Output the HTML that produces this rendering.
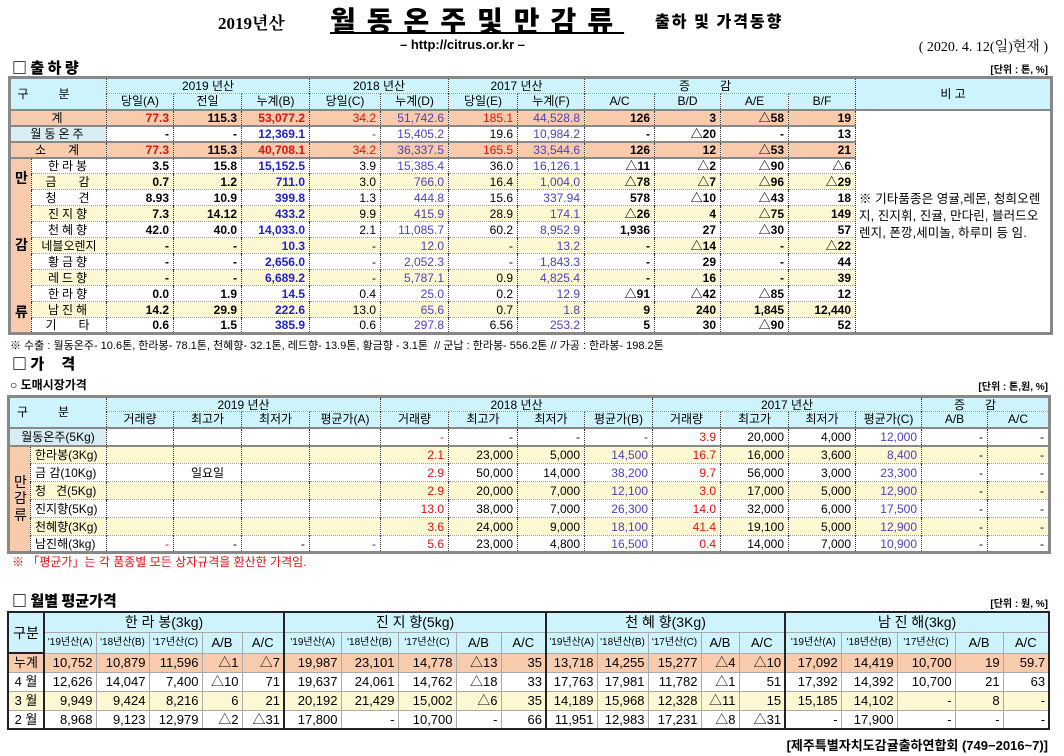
<!DOCTYPE html>
<html><head><meta charset="utf-8">
<style>
*{margin:0;padding:0;box-sizing:border-box}
body{width:1064px;height:756px;background:#fff;position:relative;overflow:hidden;font-family:"Liberation Sans","Noto Sans CJK KR",sans-serif;color:#000}
.a{position:absolute;white-space:nowrap}
table{position:absolute;border-collapse:collapse;table-layout:fixed;font-size:12px}
td{border-left:1px dotted #333;border-top:1px dotted #999;padding:0 4px;text-align:right;overflow:hidden;white-space:nowrap;line-height:1}
.h td{background:#cdf4fc;text-align:center;font-weight:normal}
.c{text-align:center!important}
.o td{background:#f8cbad}
.y td{background:#fdf8d2}
.w td{background:#fff}
.lab{text-align:center;background:#f8cbad!important;font-weight:bold;font-size:14px;white-space:normal;line-height:1.6;border-top:1px solid #666}
.b{font-weight:bold}
.r{color:#e01010}
.u{color:#2020d0}
.p{color:#4b3fc0}
.t1{border:3px solid #888}
.t1 td.lb{text-align:center;letter-spacing:3px}
.tr1 td{border-top:2px solid #888}
.t3 td{border-left:1px solid #aaa;border-top:1px solid #aaa;font-size:13px;padding:0 3px}
.t3 .g{border-left:2px solid #222}
.hd{font-family:"Noto Sans CJK KR",sans-serif;font-weight:900}
</style></head><body>

<div class="a" style="left:218px;top:9px;font:bold 17px 'Liberation Serif','Noto Serif CJK SC',serif">2019년산</div>
<div class="a hd" style="left:330px;top:0px;font-size:28px;letter-spacing:11px;text-decoration:underline;text-decoration-thickness:2px">월동온주및만감류</div>
<div class="a hd" style="left:655px;top:8px;font-size:16px;letter-spacing:2px">출하 및 가격동향</div>
<div class="a b" style="left:400px;top:37px;font-size:13px">– http://citrus.or.kr –</div>
<div class="a" style="right:16px;top:36px;font-size:14px;font-family:'Liberation Serif','Noto Serif CJK SC',serif">( 2020. 4. 12(일)현재 )</div>

<div class="a hd" style="left:12px;top:57px;font-size:15px">□ 출 하 량</div>
<div class="a b" style="right:16px;top:61px;font-size:10px">[단위 : 톤, %]</div>

<table class="t1" style="left:8px;top:76px;width:1042px">
<colgroup><col style="width:22px"><col style="width:75px"><col style="width:67px"><col style="width:68px"><col style="width:68px"><col style="width:71px"><col style="width:68px"><col style="width:69px"><col style="width:67px"><col style="width:70px"><col style="width:66px"><col style="width:68px"><col style="width:67px"><col style="width:196px"></colgroup>
<tr class="h" style="height:16px"><td colspan="2" rowspan="2" style="letter-spacing:30px">구분</td><td colspan="3">2019 년산</td><td colspan="2">2018 년산</td><td colspan="2">2017 년산</td><td colspan="4" style="letter-spacing:30px">증감</td><td rowspan="2">비 고</td></tr>
<tr class="h" style="height:16px"><td>당일(A)</td><td>전일</td><td>누계(B)</td><td>당일(C)</td><td>누계(D)</td><td>당일(E)</td><td>누계(F)</td><td>A/C</td><td>B/D</td><td>A/E</td><td>B/F</td></tr>
<tr class="o tr1" style="height:16px"><td colspan="2" class="lb">계</td><td class="b r">77.3</td><td class="b">115.3</td><td class="b r">53,077.2</td><td class="r">34.2</td><td class="p">51,742.6</td><td class="r">185.1</td><td class="p">44,528.8</td><td class="b">126</td><td class="b">3</td><td class="b">△58</td><td class="b">19</td><td rowspan="14" style="background:#fff;text-align:left;white-space:normal;font-size:12.5px;letter-spacing:0.1px;line-height:17px;padding:80px 2px 0 3px;vertical-align:top">※ 기타품종은 영귤,레몬, 청희오렌지, 진지휘, 진귤, 만다린, 블러드오렌지, 폰깡,세미놀, 하루미 등 임.</td></tr>
<tr class="w tr1" style="height:16px"><td colspan="2" class="lb" style="background:#d8ecf4">월동온주</td><td class="b">-</td><td class="b">-</td><td class="b u">12,369.1</td><td class="r">-</td><td class="p">15,405.2</td><td>19.6</td><td class="p">10,984.2</td><td class="b">-</td><td class="b">△20</td><td class="b">-</td><td class="b">13</td></tr>
<tr class="o tr1" style="height:16px"><td colspan="2" class="lb">소 &nbsp; 계</td><td class="b r">77.3</td><td class="b">115.3</td><td class="b r">40,708.1</td><td class="r">34.2</td><td class="p">36,337.5</td><td class="r">165.5</td><td class="p">33,544.6</td><td class="b">126</td><td class="b">12</td><td class="b">△53</td><td class="b">21</td></tr>
<tr class="w tr1" style="height:16px"><td rowspan="11" class="lab">만<br><br><br>감<br><br><br>류</td><td class="lb">한라봉</td><td class="b">3.5</td><td class="b">15.8</td><td class="b u">15,152.5</td><td>3.9</td><td class="p">15,385.4</td><td>36.0</td><td class="p">16,126.1</td><td class="b">△11</td><td class="b">△2</td><td class="b">△90</td><td class="b">△6</td></tr>
<tr class="y" style="height:16px"><td class="lb">금 &nbsp; 감</td><td class="b">0.7</td><td class="b">1.2</td><td class="b u">711.0</td><td>3.0</td><td class="p">766.0</td><td>16.4</td><td class="p">1,004.0</td><td class="b">△78</td><td class="b">△7</td><td class="b">△96</td><td class="b">△29</td></tr>
<tr class="w" style="height:16px"><td class="lb">청 &nbsp; 견</td><td class="b">8.93</td><td class="b">10.9</td><td class="b u">399.8</td><td>1.3</td><td class="p">444.8</td><td>15.6</td><td class="p">337.94</td><td class="b">578</td><td class="b">△10</td><td class="b">△43</td><td class="b">18</td></tr>
<tr class="y" style="height:16px"><td class="lb">진지향</td><td class="b">7.3</td><td class="b">14.12</td><td class="b u">433.2</td><td>9.9</td><td class="p">415.9</td><td>28.9</td><td class="p">174.1</td><td class="b">△26</td><td class="b">4</td><td class="b">△75</td><td class="b">149</td></tr>
<tr class="w" style="height:16px"><td class="lb">천혜향</td><td class="b">42.0</td><td class="b">40.0</td><td class="b u">14,033.0</td><td>2.1</td><td class="p">11,085.7</td><td>60.2</td><td class="p">8,952.9</td><td class="b">1,936</td><td class="b">27</td><td class="b">△30</td><td class="b">57</td></tr>
<tr class="y" style="height:16px"><td class="lb" style="letter-spacing:0">네블오렌지</td><td class="b">-</td><td class="b">-</td><td class="b u">10.3</td><td>-</td><td class="p">12.0</td><td>-</td><td class="p">13.2</td><td class="b">-</td><td class="b">△14</td><td class="b">-</td><td class="b">△22</td></tr>
<tr class="w" style="height:16px"><td class="lb">황금향</td><td class="b">-</td><td class="b">-</td><td class="b u">2,656.0</td><td>-</td><td class="p">2,052.3</td><td>-</td><td class="p">1,843.3</td><td class="b">-</td><td class="b">29</td><td class="b">-</td><td class="b">44</td></tr>
<tr class="y" style="height:16px"><td class="lb">레드향</td><td class="b">-</td><td class="b">-</td><td class="b u">6,689.2</td><td>-</td><td class="p">5,787.1</td><td>0.9</td><td class="p">4,825.4</td><td class="b">-</td><td class="b">16</td><td class="b">-</td><td class="b">39</td></tr>
<tr class="w" style="height:16px"><td class="lb">한라향</td><td class="b">0.0</td><td class="b">1.9</td><td class="b u">14.5</td><td>0.4</td><td class="p">25.0</td><td>0.2</td><td class="p">12.9</td><td class="b">△91</td><td class="b">△42</td><td class="b">△85</td><td class="b">12</td></tr>
<tr class="y" style="height:16px"><td class="lb">남진해</td><td class="b">14.2</td><td class="b">29.9</td><td class="b u">222.6</td><td>13.0</td><td class="p">65.6</td><td>0.7</td><td class="p">1.8</td><td class="b">9</td><td class="b">240</td><td class="b">1,845</td><td class="b">12,440</td></tr>
<tr class="w" style="height:16px"><td class="lb">기 &nbsp; 타</td><td class="b">0.6</td><td class="b">1.5</td><td class="b u">385.9</td><td>0.6</td><td class="p">297.8</td><td>6.56</td><td class="p">253.2</td><td class="b">5</td><td class="b">30</td><td class="b">△90</td><td class="b">52</td></tr>
</table>

<div class="a" style="left:10px;top:337px;font-size:11px">※ 수출 : 월동온주- 10.6톤, 한라봉- 78.1톤, 천혜향- 32.1톤, 레드향- 13.9톤, 황금향 - 3.1톤 &nbsp;// 군납 : 한라봉- 556.2톤 // 가공 : 한라봉- 198.2톤</div>
<div class="a hd" style="left:12px;top:353px;font-size:15px">□ 가 &nbsp; &nbsp; 격</div>
<div class="a b" style="left:10px;top:376px;font-size:12px">○ 도매시장가격</div>
<div class="a b" style="right:16px;top:378px;font-size:10px">[단위 : 톤,원, %]</div>

<table class="t1" style="left:7px;top:395px;width:1041px">
<colgroup><col style="width:22px"><col style="width:76px"><col style="width:67px"><col style="width:68px"><col style="width:68px"><col style="width:71px"><col style="width:68px"><col style="width:69px"><col style="width:67px"><col style="width:68px"><col style="width:68px"><col style="width:68px"><col style="width:67px"><col style="width:66px"><col style="width:66px"><col style="width:62px"></colgroup>
<tr class="h" style="height:15px"><td colspan="2" rowspan="2" style="letter-spacing:30px">구분</td><td colspan="4">2019 년산</td><td colspan="4">2018 년산</td><td colspan="4">2017 년산</td><td colspan="2" style="letter-spacing:20px">증감</td></tr>
<tr class="h" style="height:16px"><td>거래량</td><td>최고가</td><td>최저가</td><td>평균가(A)</td><td>거래량</td><td>최고가</td><td>최저가</td><td>평균가(B)</td><td>거래량</td><td>최고가</td><td>최저가</td><td>평균가(C)</td><td>A/B</td><td>A/C</td></tr>
<tr class="w tr1" style="height:18px"><td colspan="2" class="c" style="background:#d8ecf4">월동온주(5Kg)</td><td></td><td></td><td></td><td></td><td class="r">-</td><td>-</td><td>-</td><td class="u">-</td><td class="r">3.9</td><td>20,000</td><td>4,000</td><td class="p">12,000</td><td>-</td><td>-</td></tr>
<tr class="y tr1" style="height:18px"><td rowspan="6" class="lab" style="font-weight:normal;line-height:1.2">만<br>감<br>류</td><td style="text-align:left">한라봉(3Kg)</td><td></td><td></td><td></td><td></td><td class="r">2.1</td><td>23,000</td><td>5,000</td><td class="p">14,500</td><td class="r">16.7</td><td>16,000</td><td>3,600</td><td class="p">8,400</td><td>-</td><td>-</td></tr>
<tr class="w" style="height:18px"><td style="text-align:left">금 감(10Kg)</td><td></td><td class="c">일요일</td><td></td><td></td><td class="r">2.9</td><td>50,000</td><td>14,000</td><td class="p">38,200</td><td class="r">9.7</td><td>56,000</td><td>3,000</td><td class="p">23,300</td><td>-</td><td>-</td></tr>
<tr class="y" style="height:18px"><td style="text-align:left">청 &nbsp; 견(5Kg)</td><td></td><td></td><td></td><td></td><td class="r">2.9</td><td>20,000</td><td>7,000</td><td class="p">12,100</td><td class="r">3.0</td><td>17,000</td><td>5,000</td><td class="p">12,900</td><td>-</td><td>-</td></tr>
<tr class="w" style="height:18px"><td style="text-align:left">진지향(5Kg)</td><td></td><td></td><td></td><td></td><td class="r">13.0</td><td>38,000</td><td>7,000</td><td class="p">26,300</td><td class="r">14.0</td><td>32,000</td><td>6,000</td><td class="p">17,500</td><td>-</td><td>-</td></tr>
<tr class="y" style="height:18px"><td style="text-align:left">천혜향(3Kg)</td><td></td><td></td><td></td><td></td><td class="r">3.6</td><td>24,000</td><td>9,000</td><td class="p">18,100</td><td class="r">41.4</td><td>19,100</td><td>5,000</td><td class="p">12,900</td><td>-</td><td>-</td></tr>
<tr class="w" style="height:17px"><td style="text-align:left">남진해(3kg)</td><td class="r">-</td><td>-</td><td>-</td><td class="u">-</td><td class="r">5.6</td><td>23,000</td><td>4,800</td><td class="p">16,500</td><td class="r">0.4</td><td>14,000</td><td>7,000</td><td class="p">10,900</td><td>-</td><td>-</td></tr>
</table>
<div class="a" style="left:12px;top:553px;font-size:12px;color:#e01010">※ 「평균가」는 각 품종별 모든 상자규격을 환산한 가격임.</div>

<div class="a hd" style="left:12px;top:590px;font-size:15px">□ 월별 평균가격</div>
<div class="a b" style="right:16px;top:595px;font-size:10px">[단위 : 원, %]</div>

<table class="t3" style="left:7px;top:611px;width:1041px;border:2px solid #222">
<colgroup><col style="width:36px"><col style="width:52px"><col style="width:53px"><col style="width:53px"><col style="width:40px"><col style="width:42px"><col style="width:57px"><col style="width:57px"><col style="width:58px"><col style="width:45px"><col style="width:45px"><col style="width:51px"><col style="width:51px"><col style="width:53px"><col style="width:38px"><col style="width:46px"><col style="width:56px"><col style="width:56px"><col style="width:58px"><col style="width:48px"><col style="width:46px"></colgroup>
<tr class="h" style="height:20px"><td rowspan="2" style="font-size:14px;border-right:2px solid #222">구분</td><td colspan="5" style="font-size:14px">한 라 봉(3kg)</td><td colspan="5" class="g" style="font-size:14px">진 지 향(5kg)</td><td colspan="5" class="g" style="font-size:14px">천 혜 향(3Kg)</td><td colspan="5" class="g" style="font-size:14px">남 진 해(3kg)</td></tr>
<tr class="h" style="height:21px;font-size:10px"><td style="font-size:10px;padding:0">'19년산(A)</td><td style="font-size:10px;padding:0">'18년산(B)</td><td style="font-size:10px;padding:0">'17년산(C)</td><td>A/B</td><td>A/C</td><td class="g" style="font-size:10px;padding:0">'19년산(A)</td><td style="font-size:10px;padding:0">'18년산(B)</td><td style="font-size:10px;padding:0">'17년산(C)</td><td>A/B</td><td>A/C</td><td class="g" style="font-size:10px;padding:0">'19년산(A)</td><td style="font-size:10px;padding:0">'18년산(B)</td><td style="font-size:10px;padding:0">'17년산(C)</td><td>A/B</td><td>A/C</td><td class="g" style="font-size:10px;padding:0">'19년산(A)</td><td style="font-size:10px;padding:0">'18년산(B)</td><td style="font-size:10px;padding:0">'17년산(C)</td><td>A/B</td><td>A/C</td></tr>
<tr class="o" style="height:19px"><td class="c" style="border-right:2px solid #222;border-top:2px solid #222">누계</td><td>10,752</td><td>10,879</td><td>11,596</td><td>△1</td><td>△7</td><td class="g">19,987</td><td>23,101</td><td>14,778</td><td>△13</td><td>35</td><td class="g">13,718</td><td>14,255</td><td>15,277</td><td>△4</td><td>△10</td><td class="g">17,092</td><td>14,419</td><td>10,700</td><td>19</td><td>59.7</td></tr>
<tr class="w" style="height:19px"><td class="c" style="border-right:2px solid #222">4 월</td><td>12,626</td><td>14,047</td><td>7,400</td><td>△10</td><td>71</td><td class="g">19,637</td><td>24,061</td><td>14,762</td><td>△18</td><td>33</td><td class="g">17,763</td><td>17,981</td><td>11,782</td><td>△1</td><td>51</td><td class="g">17,392</td><td>14,392</td><td>10,700</td><td>21</td><td>63</td></tr>
<tr class="y" style="height:19px"><td class="c" style="border-right:2px solid #222">3 월</td><td>9,949</td><td>9,424</td><td>8,216</td><td>6</td><td>21</td><td class="g">20,192</td><td>21,429</td><td>15,002</td><td>△6</td><td>35</td><td class="g">14,189</td><td>15,968</td><td>12,328</td><td>△11</td><td>15</td><td class="g">15,185</td><td>14,102</td><td>-</td><td>8</td><td>-</td></tr>
<tr class="w" style="height:19px"><td class="c" style="border-right:2px solid #222">2 월</td><td>8,968</td><td>9,123</td><td>12,979</td><td>△2</td><td>△31</td><td class="g">17,800</td><td>-</td><td>10,700</td><td>-</td><td>66</td><td class="g">11,951</td><td>12,983</td><td>17,231</td><td>△8</td><td>△31</td><td class="g">-</td><td>17,900</td><td>-</td><td>-</td><td>-</td></tr>
</table>
<div class="a b" style="right:16px;top:735px;font-size:13px">[제주특별자치도감귤출하연합회 (749−2016~7)]</div>
</body></html>
